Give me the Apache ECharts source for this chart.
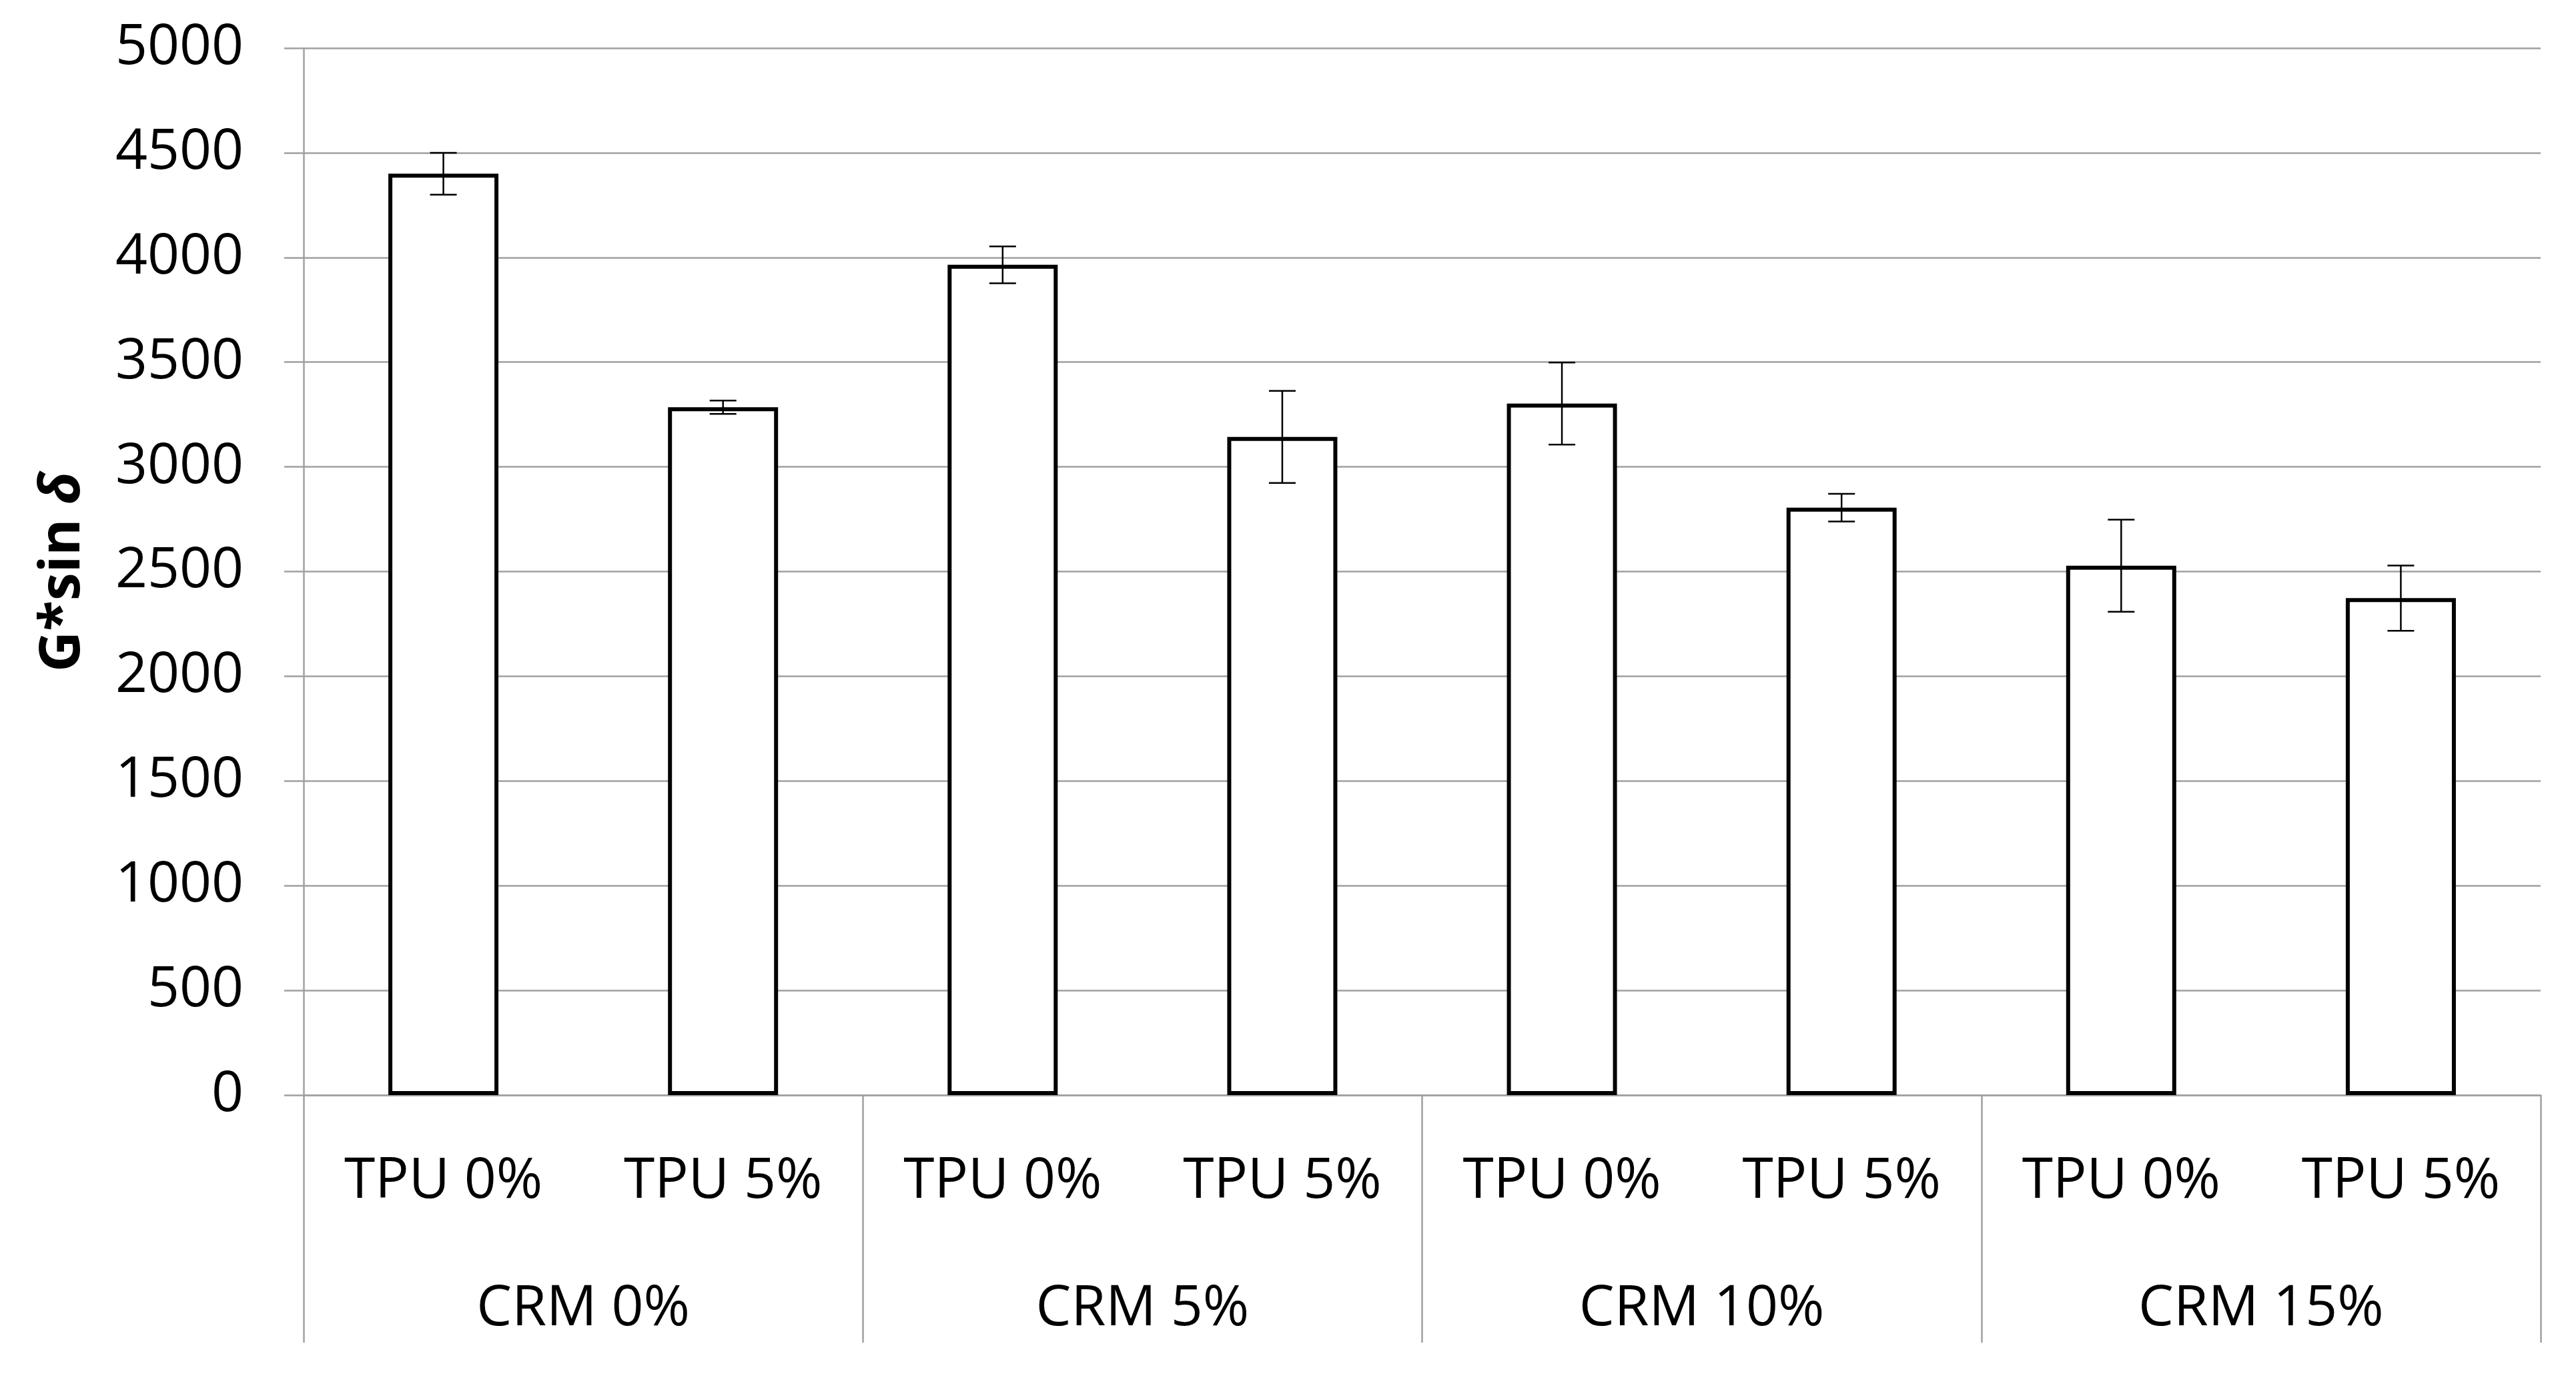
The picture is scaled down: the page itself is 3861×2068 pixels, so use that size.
<!DOCTYPE html>
<html>
<head>
<meta charset="utf-8">
<script src="https://cdn.jsdelivr.net/npm/echarts@6/dist/echarts.min.js"></script>
<style>
html,body{margin:0;padding:0;background:#fff;}
#chart{width:3861px;height:2068px;}
</style>
</head>
<body>
<div id="chart"></div>
<script>
// ---- data ----
var tpuLabels = ['TPU 0%', 'TPU 5%', 'TPU 0%', 'TPU 5%', 'TPU 0%', 'TPU 5%', 'TPU 0%', 'TPU 5%'];
var crmGroups = ['CRM 0%', 'CRM 5%', 'CRM 10%', 'CRM 15%'];
var values = [4400, 3285, 3965, 3143, 3302, 2805, 2528, 2373];
var errors = [100, 32, 88, 220, 196, 66, 220, 156];
var yTicks = [0, 500, 1000, 1500, 2000, 2500, 3000, 3500, 4000, 4500, 5000];

var FONT = '"Open Sans", "Noto Sans", sans-serif';
var GRID_GRAY = '#a0a0a0';

var errData = values.map(function (v, i) { return [i, v - errors[i], v + errors[i]]; });

var chart = echarts.init(document.getElementById('chart'), null, {renderer: 'canvas'});
chart.setOption({
  animation: false,
  backgroundColor: '#fff',
  grid: {left: 455, right: 53, top: 72, bottom: 427, containLabel: false},
  xAxis: [
    {
      type: 'category',
      data: tpuLabels,
      position: 'bottom',
      axisLine: {show: true, lineStyle: {color: GRID_GRAY, width: 2.5}},
      axisTick: {show: false},
      axisLabel: {interval: 0, margin: 88, fontSize: 84, lineHeight: 84, color: '#000', fontFamily: FONT},
      splitLine: {show: false}
    },
    {
      type: 'category',
      data: crmGroups,
      position: 'bottom',
      axisLine: {show: false},
      axisTick: {show: true, interval: 0, length: 371, lineStyle: {color: GRID_GRAY, width: 2.5}},
      axisLabel: {interval: 0, margin: 279, fontSize: 84, lineHeight: 84, color: '#000', fontFamily: FONT},
      splitLine: {show: false}
    }
  ],
  yAxis: {
    type: 'value',
    min: yTicks[0],
    max: yTicks[yTicks.length - 1],
    interval: 500,
    name: '{b|G*sin }{i|δ}',
    nameLocation: 'middle',
    nameGap: 318,
    nameRotate: 90,
    nameTextStyle: {
      rich: {
        b: {fontSize: 84, fontWeight: 'bold', fontFamily: FONT, color: '#000'},
        i: {fontSize: 84, fontWeight: 'bold', fontStyle: 'italic', fontFamily: FONT, color: '#000'}
      }
    },
    axisLine: {show: true, lineStyle: {color: GRID_GRAY, width: 2.5}},
    axisTick: {show: true, length: 29, lineStyle: {color: GRID_GRAY, width: 2.5}},
    axisLabel: {margin: 90, fontSize: 84, color: '#000', fontFamily: FONT,
      formatter: function (v) { return String(v); }},
    splitLine: {show: true, lineStyle: {color: GRID_GRAY, width: 2.5}}
  },
  series: [
    {
      type: 'bar',
      xAxisIndex: 0,
      data: values,
      barWidth: 165,
      itemStyle: {color: '#fff', borderColor: '#000', borderWidth: 6},
      z: 2
    },
    {
      type: 'custom',
      xAxisIndex: 0,
      data: errData,
      z: 3,
      renderItem: function (params, api) {
        var x = api.value(0);
        var lo = api.coord([x, api.value(1)]);
        var hi = api.coord([x, api.value(2)]);
        var hw = 20;
        var style = {stroke: '#000', lineWidth: 2.5, fill: null};
        return {
          type: 'group',
          children: [
            {type: 'line', shape: {x1: hi[0], y1: hi[1], x2: lo[0], y2: lo[1]}, style: style},
            {type: 'line', shape: {x1: hi[0] - hw, y1: hi[1], x2: hi[0] + hw, y2: hi[1]}, style: style},
            {type: 'line', shape: {x1: lo[0] - hw, y1: lo[1], x2: lo[0] + hw, y2: lo[1]}, style: style}
          ]
        };
      }
    }
  ]
});
</script>
</body>
</html>
